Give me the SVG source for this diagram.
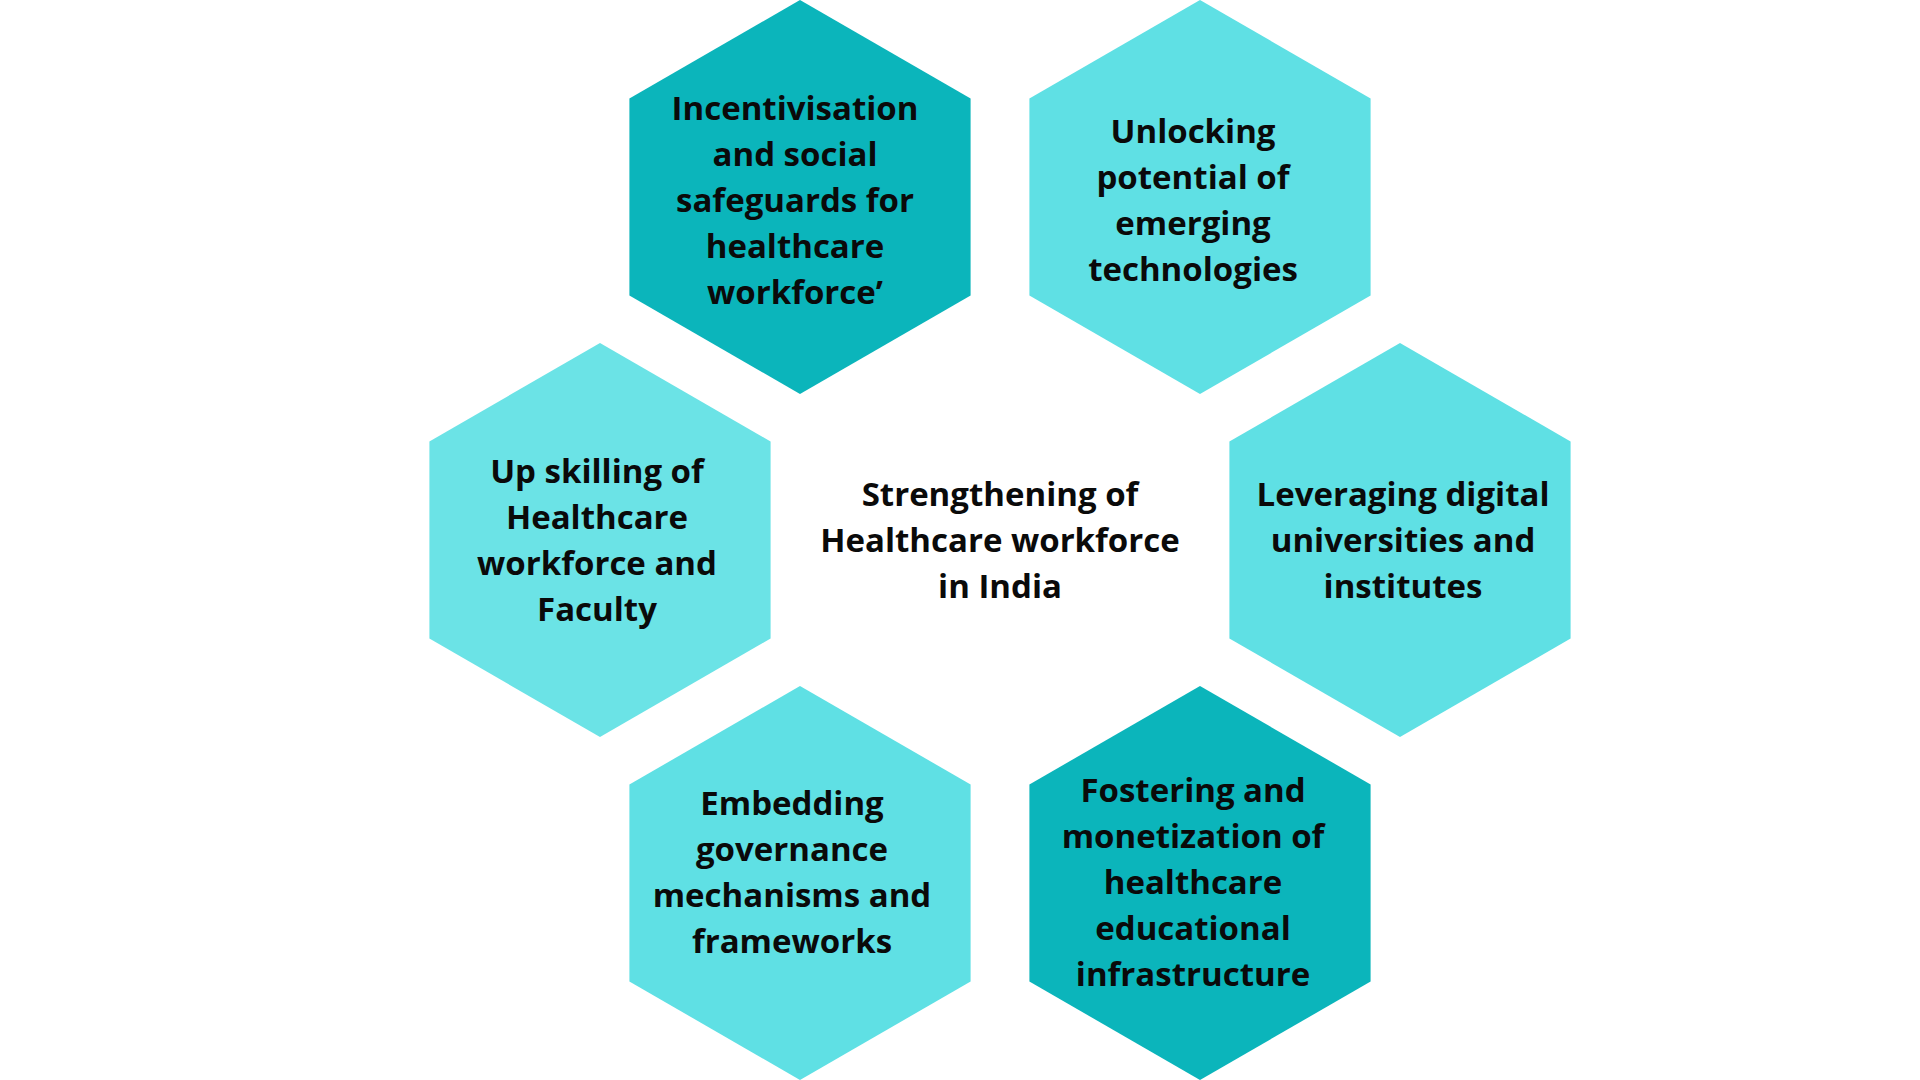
<svg xmlns="http://www.w3.org/2000/svg" xmlns:xlink="http://www.w3.org/1999/xlink" width="1920" height="1080" viewBox="0 0 1920 1080">
<style>
.dark{fill:#0BB5BB}
.light{fill:#5FE0E4}
.light2{fill:#6BE3E6}
text{font-family:"Open Sans","Noto Sans","Liberation Sans",sans-serif;font-weight:700;font-size:33px;fill:#0A0A0A;text-anchor:middle}
</style>
<defs>
<polygon id="hex" points="0,-197 170.6,-98.5 170.6,98.5 0,197 -170.6,98.5 -170.6,-98.5"/>
</defs>
<rect width="1920" height="1080" fill="#FFFFFF"/>
<g id="connectors"/>
<g id="node-incentivisation">
<use xlink:href="#hex" href="#hex" class="dark" transform="translate(800,197)"/>
<text x="795" y="120">Incentivisation</text>
<text x="795" y="166">and social</text>
<text x="795" y="212">safeguards for</text>
<text x="795" y="258">healthcare</text>
<text x="795" y="304">workforce’</text>
</g>
<g id="node-unlocking">
<use xlink:href="#hex" href="#hex" class="light" transform="translate(1200,197)"/>
<text x="1193" y="143">Unlocking</text>
<text x="1193" y="189">potential of</text>
<text x="1193" y="235">emerging</text>
<text x="1193" y="281">technologies</text>
</g>
<g id="node-upskilling">
<use xlink:href="#hex" href="#hex" class="light2" transform="translate(600,540)"/>
<text x="597" y="483">Up skilling of</text>
<text x="597" y="529">Healthcare</text>
<text x="597" y="575">workforce and</text>
<text x="597" y="621">Faculty</text>
</g>
<g id="node-center">
<text x="1000" y="506">Strengthening of</text>
<text x="1000" y="552">Healthcare workforce</text>
<text x="1000" y="598">in India</text>
</g>
<g id="node-leveraging">
<use xlink:href="#hex" href="#hex" class="light" transform="translate(1400,540)"/>
<text x="1403" y="506">Leveraging digital</text>
<text x="1403" y="552">universities and</text>
<text x="1403" y="598">institutes</text>
</g>
<g id="node-embedding">
<use xlink:href="#hex" href="#hex" class="light" transform="translate(800,883)"/>
<text x="792" y="815">Embedding</text>
<text x="792" y="861">governance</text>
<text x="792" y="907">mechanisms and</text>
<text x="792" y="953">frameworks</text>
</g>
<g id="node-fostering">
<use xlink:href="#hex" href="#hex" class="dark" transform="translate(1200,883)"/>
<text x="1193" y="802">Fostering and</text>
<text x="1193" y="848">monetization of</text>
<text x="1193" y="894">healthcare</text>
<text x="1193" y="940">educational</text>
<text x="1193" y="986">infrastructure</text>
</g>
</svg>
